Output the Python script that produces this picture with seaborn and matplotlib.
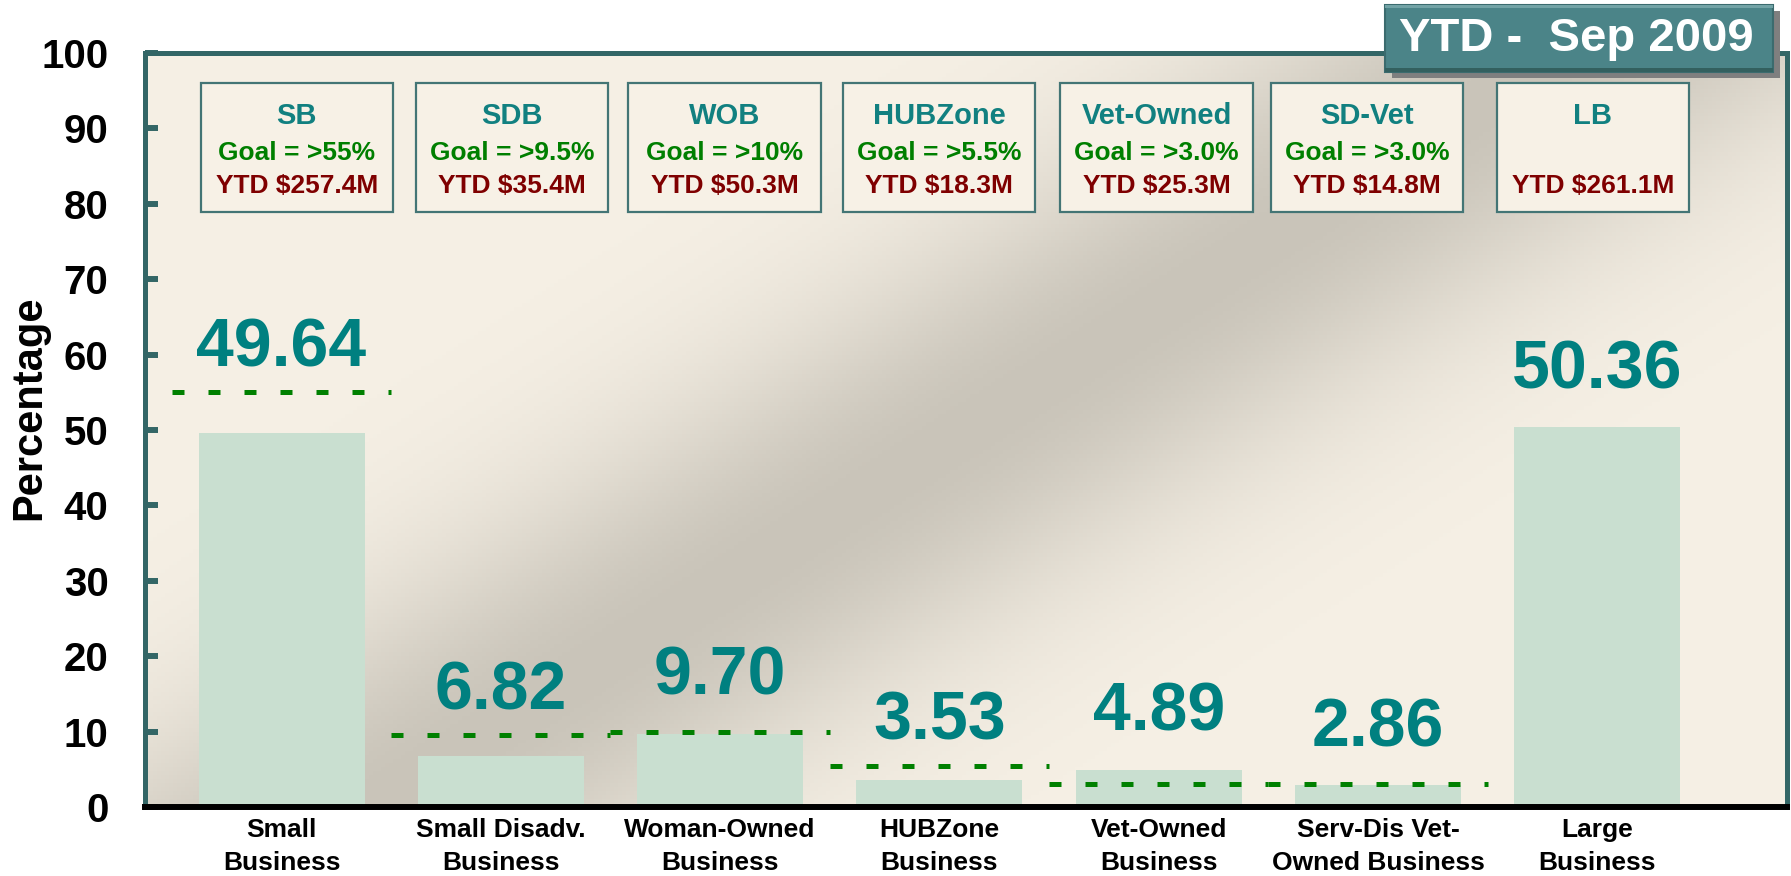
import numpy as np
import pandas as pd
import matplotlib.pyplot as plt
import seaborn as sns
from matplotlib.patches import Rectangle

categories = [
    "Small\nBusiness",
    "Small Disadv.\nBusiness",
    "Woman-Owned\nBusiness",
    "HUBZone\nBusiness",
    "Vet-Owned\nBusiness",
    "Serv-Dis Vet-\nOwned Business",
    "Large\nBusiness",
]
percent = [49.64, 6.82, 9.70, 3.53, 4.89, 2.86, 50.36]
goals = [55.0, 9.5, 10.0, 5.5, 3.0, 3.0, np.nan]

box_titles = ["SB", "SDB", "WOB", "HUBZone", "Vet-Owned", "SD-Vet", "LB"]
box_goals = ["Goal = >55%", "Goal = >9.5%", "Goal = >10%", "Goal = >5.5%",
             "Goal = >3.0%", "Goal = >3.0%", ""]
box_ytd = ["YTD $257.4M", "YTD $35.4M", "YTD $50.3M", "YTD $18.3M",
           "YTD $25.3M", "YTD $14.8M", "YTD $261.1M"]
box_shift = [0.07, 0.05, 0.02, 0.0, -0.01, -0.05, -0.02]

sns.set_theme(style="white")
plt.rcParams["font.family"] = ["Liberation Sans", "DejaVu Sans"]
plt.rcParams["font.weight"] = "bold"

W, H = 1791, 876
fig = plt.figure(figsize=(W / 100, H / 100), dpi=100)
fig.patch.set_facecolor("white")
ax = fig.add_axes([144.5 / W, 1 - 807 / H, (1787 - 144.5) / W, (807 - 53) / H])

# diagonal grey sheen behind the plot
ny, nx = 190, 410
yy, xx = np.mgrid[0:ny, 0:nx]
px = xx * (1642.5 / nx)
py = yy * (754 / ny)
x0, y0 = 377 - 144.5, 800 - 53
x1, y1 = 1371 - 144.5, 171 - 53
dx, dy = x1 - x0, y1 - y0
dist = np.abs((px - x0) * dy - (py - y0) * dx) / np.hypot(dx, dy)
w = np.exp(-dist ** 2 / (2 * 125 ** 2))[..., None]
cream = np.array([246, 240, 229]) / 255
grey = np.array([201, 196, 185]) / 255
ax.imshow(cream * (1 - w) + grey * w, extent=(0, 1, 0, 1), transform=ax.transAxes,
          aspect="auto", origin="upper", zorder=0)

df = pd.DataFrame({"category": categories, "percent": percent})
sns.barplot(data=df, x="category", y="percent", color="#C9DFD0", saturation=1,
            width=0.757, linewidth=0, ax=ax, zorder=2)

for i, (v, g) in enumerate(zip(percent, goals)):
    label_y = v + 5.2
    if not np.isnan(g):
        ax.plot([i - 0.5, i + 0.5], [g, g], color="#008000", lw=3.6,
                ls=(0, (2.4, 4.8)), zorder=3)
        label_y = max(label_y, g + 3.4)
    ax.text(i, label_y, f"{v:.2f}", ha="center", va="baseline", fontsize=49,
            color="#008080", fontweight="bold", zorder=4)

for i, (t, g, y) in enumerate(zip(box_titles, box_goals, box_ytd)):
    cx = i + box_shift[i]
    ax.add_patch(Rectangle((cx - 0.438, 78.9), 0.876, 17.1, facecolor="#F7F1E6",
                           edgecolor="#437575", lw=1.6, zorder=3))
    ax.text(cx, 91.7, t, ha="center", va="center", fontsize=21, color="#118080", zorder=4)
    ax.text(cx, 86.8, g, ha="center", va="center", fontsize=19, color="#007F00", zorder=4)
    ax.text(cx, 82.3, y, ha="center", va="center", fontsize=19, color="#7F0000", zorder=4)

ax.set_xlim(-0.625, 6.865)
ax.set_ylim(0, 100)
ax.set_yticks(range(0, 101, 10))
ax.tick_params(axis="y", direction="in", length=9.5, width=4.3, color="#336666",
               pad=26, labelsize=29, labelcolor="black", left=True)
ax.tick_params(axis="x", length=0, pad=8, labelsize=19, labelcolor="black")
for lab in ax.get_xticklabels():
    lab.set_linespacing(1.45)
ax.set_xlabel("")
ax.set_ylabel("Percentage", fontsize=30, fontweight="bold", color="black")
ax.yaxis.set_label_coords(-0.058, 0.53)

for side in ["left", "top", "right"]:
    ax.spines[side].set_color("#336666")
    ax.spines[side].set_linewidth(3.6)
ax.spines["bottom"].set_color("black")
ax.spines["bottom"].set_linewidth(4.3)

# title plate
fig.add_artist(Rectangle((1392 / W, 1 - 78 / H), 388 / W, 67 / H,
                         transform=fig.transFigure, facecolor="#7F7F7F", lw=0, zorder=5))
fig.add_artist(Rectangle((1385 / W, 1 - 72 / H), 388 / W, 67 / H,
                         transform=fig.transFigure, facecolor="#4B8488",
                         edgecolor="#3B6B6E", lw=1.5, zorder=6))
fig.add_artist(Rectangle((1385 / W, 1 - 8 / H), 388 / W, 3 / H,
                         transform=fig.transFigure, facecolor="#72A3A6", lw=0, zorder=7))
fig.add_artist(Rectangle((1385 / W, 1 - 72 / H), 388 / W, 4 / H,
                         transform=fig.transFigure, facecolor="#33605F", lw=0, zorder=7))
fig.text(1576 / W, 1 - 39 / H, "YTD -  Sep 2009", color="white", fontsize=34,
         fontweight="bold", ha="center", va="center", zorder=8)

fig.savefig("out.png", dpi=100)
